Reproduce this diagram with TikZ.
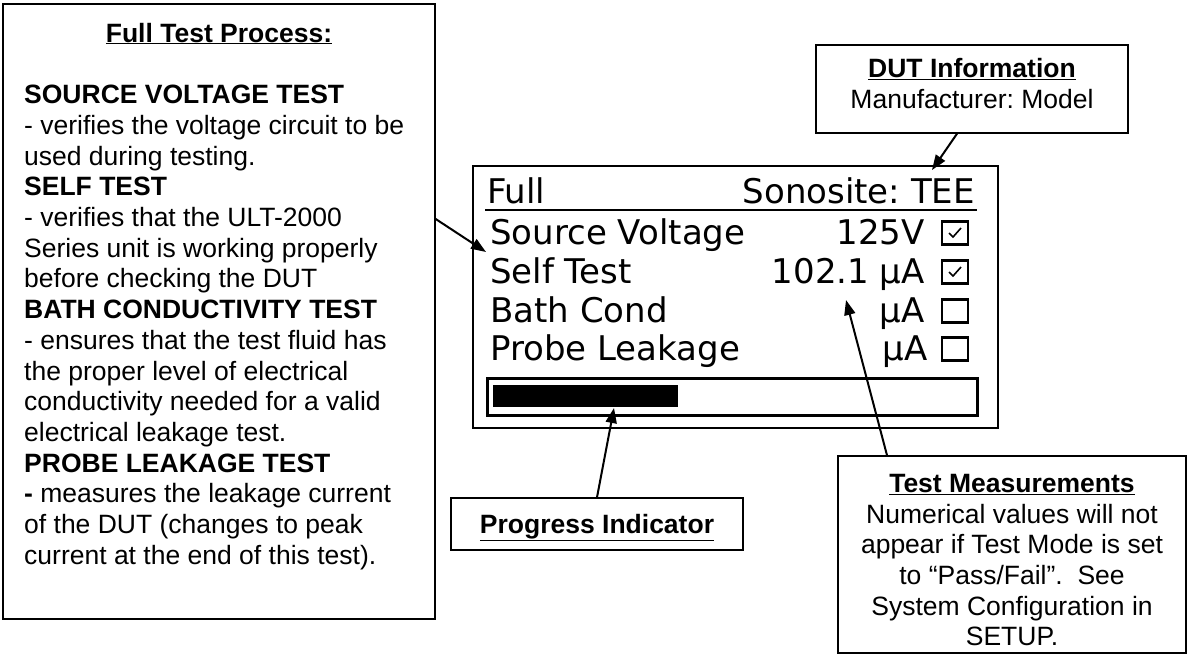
\documentclass[tikz,border=0pt]{standalone}
\usepackage{fontspec}
\setmainfont{Liberation Sans}
\newfontfamily\lcdfont{DejaVu Sans}
\usetikzlibrary{arrows.meta}
\frenchspacing

\begin{document}
\begin{tikzpicture}[x=1pt,y=-1pt,>={Triangle[length=15pt,width=11pt]},
  box/.style={draw,line width=1.4pt,inner sep=0pt},
  lbl/.style={inner sep=0pt,font=\fontsize{26.5}{30.7}\selectfont},
  lcdtxt/.style={inner sep=0pt,font=\lcdfont\fontsize{34}{34}\selectfont},
  tickbox/.style={draw,line width=2.4pt,minimum width=26pt,minimum height=23pt,inner sep=0pt},
  pointer/.style={->,line width=2pt}]
\useasboundingbox (0,0) rectangle (1188,656);
% boxes
\node[box,minimum width=432pt,minimum height=615pt] (fullbox) at (219,311.5) {};
\node[box,minimum width=525pt,minimum height=262pt] (lcd) at (735.5,297) {};
\node[box,minimum width=312pt,minimum height=88pt] (dutbox) at (972,89) {};
\node[box,minimum width=292pt,minimum height=52pt] (progbox) at (597,524) {};
\node[box,minimum width=348pt,minimum height=197pt] (measbox) at (1012,554.5) {};
% left box text
\node[lbl,anchor=base] (fulltitle) at (219,42) {\underline{\textbf{Full Test Process:}}};
\node[lbl,anchor=north west,align=left] (steps) at (24,85) {\textbf{SOURCE VOLTAGE TEST}\\
- verifies the voltage circuit to be\\
used during testing.\\
\textbf{SELF TEST}\\
- verifies that the ULT-2000\\
Series unit is working properly\\
before checking the DUT\\
\textbf{BATH CONDUCTIVITY TEST}\\
- ensures that the test fluid has\\
the proper level of electrical\\
conductivity needed for a valid\\
electrical leakage test.\\
\textbf{PROBE LEAKAGE TEST}\\
\textbf{-} measures the leakage current\\
of the DUT (changes to peak\\
current at the end of this test).};
% callout texts
\node[lbl,anchor=north,align=center] (dutinfo) at (972,58) {\underline{\textbf{DUT Information}}\\Manufacturer: Model};
\node[lbl,anchor=base] (proginfo) at (597,533) {\underline{\textbf{Progress Indicator}}};
\node[lbl,anchor=north,align=center] (measinfo) at (1012,474) {\underline{\textbf{Test Measurements}}\\
Numerical values will not\\
appear if Test Mode is set\\
to “Pass/Fail”.\ \ See\\
System Configuration in\\
SETUP.};
% lcd screen
\node[lcdtxt,anchor=base west] (mode) at (487,203) {Full};
\node[lcdtxt,anchor=base east] (probename) at (975,203) {Sonosite: TEE};
\draw[line width=2.8pt] (485,210) -- (977,210);
\node[lcdtxt,anchor=base west] (srcv) at (490,244) {Source Voltage};
\node[lcdtxt,anchor=base west] (self) at (490,283) {Self Test};
\node[lcdtxt,anchor=base west] (bath) at (490,322) {Bath Cond};
\node[lcdtxt,anchor=base west] (probe) at (490,360) {Probe Leakage};
\node[lcdtxt,anchor=base east] (srcval) at (925,244) {125V};
\node[lcdtxt,anchor=base east] (selfval) at (925,283) {102.1 µA};
\node[lcdtxt,anchor=base east] (bathval) at (925,322) {µA};
\node[lcdtxt,anchor=base east] (probeval) at (928,360) {µA};
\node[tickbox] (cb1) at (955,233) {};
\node[tickbox] (cb2) at (955,272) {};
\node[tickbox] (cb3) at (955,311) {};
\node[tickbox] (cb4) at (955,349) {};
\draw[line width=1.6pt] ([xshift=-6pt]cb1.center) -- ++(4,4) -- ++(8,-9);
\draw[line width=1.6pt] ([xshift=-6pt]cb2.center) -- ++(4,4) -- ++(8,-9);
\node[draw,line width=3pt,minimum width=490pt,minimum height=37pt,inner sep=0pt] (bar) at (732,396.5) {};
\node[fill=black,minimum width=185pt,minimum height=22pt,inner sep=0pt] (barfill) at (585.5,396) {};
% arrows
\coordinate (srcpt) at (486,252);
\coordinate (teept) at (932,170);
\coordinate (barpt) at (614,408);
\coordinate (valpt) at (846,300);
\draw[pointer] ([yshift=92.5pt]fullbox.east) -- (srcpt);
\draw[pointer] ([xshift=-15pt]dutbox.south) -- (teept);
\draw[pointer] (progbox.north) -- (barpt);
\draw[pointer] ([xshift=-125pt]measbox.north) -- (valpt);
\end{tikzpicture}
\end{document}
